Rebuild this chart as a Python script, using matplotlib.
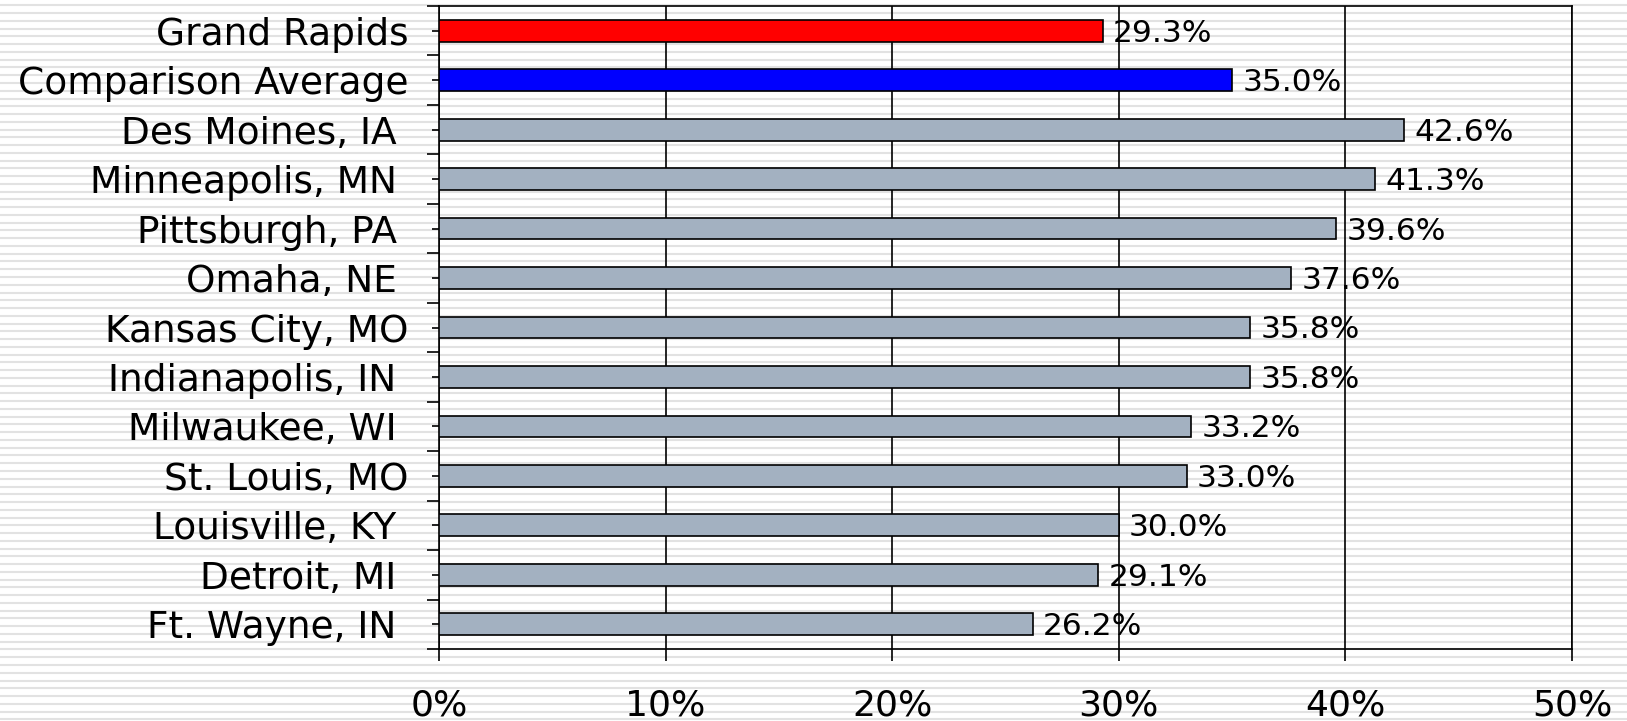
import matplotlib.pyplot as plt
import numpy as np

# categories from top to bottom, as on the chart
cities = ["Grand Rapids", "Comparison Average", "Des Moines, IA ", "Minneapolis, MN ",
          "Pittsburgh, PA ", "Omaha, NE ", "Kansas City, MO", "Indianapolis, IN ",
          "Milwaukee, WI ", "St. Louis, MO", "Louisville, KY ", "Detroit, MI ",
          "Ft. Wayne, IN "]
shares = [29.3, 35.0, 42.6, 41.3, 39.6, 37.6, 35.8, 35.8, 33.2, 33.0, 30.0, 29.1, 26.2]
bar_colors = ["#FF0000", "#0000FF"] + ["#A3B1C1"] * 11

W, H = 1627, 721
fig = plt.figure(figsize=(W / 100, H / 100), dpi=100)
fig.patch.set_facecolor("white")

# striped slide background
bg = fig.add_axes([0, 0, 1, 1], zorder=0)
bg.set_xlim(0, W)
bg.set_ylim(H, 0)
bg.axis("off")
for y in np.arange(5.4, H, 7.76):
    bg.axhline(y, color="#E2E2E2", lw=1.5)

ax = fig.add_axes([439 / W, 1 - 649 / H, (1572 - 439) / W, (649 - 6) / H], zorder=1)
ax.patch.set_alpha(0)

pos = np.arange(len(cities))
ax.barh(pos, np.array(shares) / 100, height=0.44, color=bar_colors,
        edgecolor="black", linewidth=1.2, zorder=3)

for p, v in zip(pos, shares):
    ax.text(v / 100 + 0.0045, p + 0.05, f"{v:.1f}%", va="center", ha="left",
            fontsize=22.5, zorder=4)

ax.set_ylim(len(cities) - 0.5, -0.5)
ax.set_xlim(0, 0.5)
ax.set_yticks(pos)
ax.set_yticklabels(cities, fontsize=27)
ax.set_yticks(np.arange(len(cities) + 1) - 0.5, minor=True)
ax.tick_params(axis="y", which="major", length=5, width=1.2, pad=17)
ax.tick_params(axis="y", which="minor", length=8.6, width=1.2)

xt = np.arange(0, 0.51, 0.1)
ax.set_xticks(xt)
ax.set_xticklabels([f"{int(round(t * 100))}%" for t in xt], fontsize=26)
ax.tick_params(axis="x", length=8.6, width=1.2, pad=19.5)

ax.grid(axis="x", color="black", lw=1.2, zorder=1)
for s in ax.spines.values():
    s.set_color("black")
    s.set_linewidth(1.2)

fig.savefig("out.png", dpi=100)
